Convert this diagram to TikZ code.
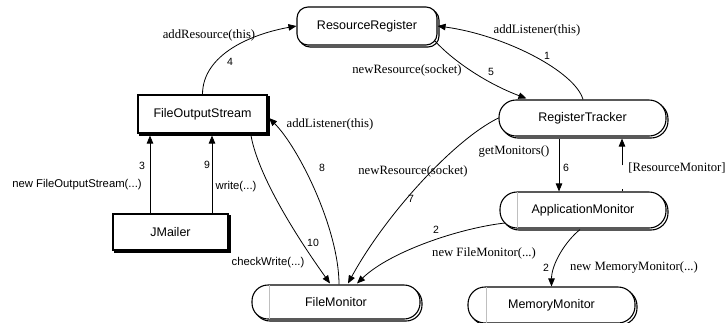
\documentclass[tikz,border=0pt]{standalone}
\usepackage{fontspec}
\setmainfont{Liberation Serif}
\setsansfont{Liberation Sans}
\usetikzlibrary{arrows.meta,calc,shadows}
\begin{document}
\begin{tikzpicture}[x=1pt,y=-1pt,
  base/.style={draw=black, line width=1.1pt, fill=white, inner sep=0pt,
    font=\sffamily\fontsize{12.5}{14}\selectfont,
    general shadow={draw=black, fill=white, line width=1.1pt, shadow xshift=2pt, shadow yshift=-2pt}},
  sqbox/.style={base},
  rrbox/.style={base, rounded corners=11pt},
  pill/.style={base, rounded corners=17pt},
  arr/.style={line width=0.8pt, -{Triangle[length=8pt,width=6.5pt]}},
  lab/.style={font=\fontsize{12.7}{14}\selectfont, inner sep=0pt},
  slab/.style={font=\sffamily\fontsize{11.3}{13}\selectfont, inner sep=0pt},
  num/.style={font=\sffamily\fontsize{10.5}{12}\selectfont, inner sep=0pt},
  inner/.style={draw=black!25, line width=0.5pt}]
\useasboundingbox (0,0) rectangle (727,322);

% nodes
\node[rrbox, minimum width=140pt, minimum height=38pt] (RR) at (367,26) {ResourceRegister};
\node[sqbox, minimum width=129pt, minimum height=38pt] (FOS) at (202.5,114) {FileOutputStream};
\node[sqbox, minimum width=115pt, minimum height=36pt] (JM) at (170.5,232) {JMailer};
\node[pill, minimum width=167pt, minimum height=36pt] (RT) at (582.5,118) {RegisterTracker};
\node[pill, minimum width=166pt, minimum height=36pt] (AM) at (583,210) {ApplicationMonitor};
\node[pill, minimum width=168pt, minimum height=34pt, rounded corners=16pt] (FM) at (336,302) {FileMonitor};
\node[pill, minimum width=167pt, minimum height=36pt] (MM) at (551.5,305) {MemoryMonitor};

% thin inner lines
\draw[inner] ($(AM.north west)+(18,1)$) -- ($(AM.south west)+(18,-1)$);
\draw[inner] ($(FM.north west)+(18,1)$) -- ($(FM.south west)+(18,-1)$);
\draw[inner] ($(MM.north west)+(19,1)$) -- ($(MM.south west)+(19,-1)$);

% connectors
\draw[arr] ($(RT.north)+(0.5,0)$) .. controls +(-8,-28) and +(67,9) .. (RR.east);
\draw[arr] ($(RR.south east)+(-3,-5)$) .. controls +(18,20) and +(-40,-15) .. ($(RT.north west)+(28,-1)$);
\draw[arr] (FOS.north) .. controls +(0,-40) and +(-45,8) .. (RR.west);
\draw[arr] ($(JM.north)+(-20.5,0)$) -- ($(FOS.south)+(-52.5,2)$);
\draw[arr] ($(JM.north)+(41.5,0)$) -- ($(FOS.south)+(9.5,2)$);
\draw[arr] ($(FOS.south)+(48.5,2)$) .. controls +(8,45) and +(-25,-35) .. ($(FM.north)+(-6,-1)$);
\draw[arr] ($(FM.north)+(3,0)$) .. controls +(0,-55) and +(30,30) .. ($(FOS.east)+(1.5,4)$);
\draw[arr] (RT.west) .. controls +(-45,22) and +(37,-68) .. ($(FM.north)+(12,-1)$);
\draw[arr] ($(AM.center)+(-78,13)$) .. controls +(-45,5) and +(33,-32) .. ($(FM.north)+(21,-1)$);
\draw[arr] ($(AM.south)+(-3,1)$) .. controls +(-15,12) and +(0,-22) .. (MM.north);
\draw[arr] ($(RT.south)+(-23.5,2)$) -- ($(AM.north)+(-24,0)$);
\draw[arr, dash pattern=on 2pt off 24pt on 200pt] ($(AM.north)+(39,0)$) -- ($(RT.south)+(39.5,2)$);

% labels
\node[lab] (l1) at (537,30) {addListener(this)};
\node[num] (n1) at (547,56) {1};
\node[lab] (l5) at (407,70) {newResource(socket)};
\node[num] (n5) at (491,72) {5};
\node[lab] (l4) at (209,35) {addResource(this)};
\node[num] (n4) at (230,62) {4};
\node[num] (n3) at (142,166) {3};
\node[slab] (l3) at (77,185) {new FileOutputStream(...)};
\node[num] (n9) at (207,165) {9};
\node[slab] (l9) at (236,187) {write(...)};
\node[num] (n10) at (313,243) {10};
\node[slab] (l10) at (268,263) {checkWrite(...)};
\node[lab] (l8) at (330,124) {addListener(this)};
\node[num] (n8) at (322,168) {8};
\node[lab] (l7) at (413,171) {newResource(socket)};
\node[num] (n7) at (411,199) {7};
\node[num] (n2a) at (436,230) {2};
\node[lab] (l2a) at (484,253) {new FileMonitor(...)};
\node[num] (n2b) at (546,268) {2};
\node[lab] (l2b) at (634,267) {new MemoryMonitor(...)};
\node[lab] (l6) at (514,151) {getMonitors()};
\node[num] (n6) at (566,168) {6};
\node[lab] (lrm) at (677,168) {[ResourceMonitor]};
\end{tikzpicture}
\end{document}
